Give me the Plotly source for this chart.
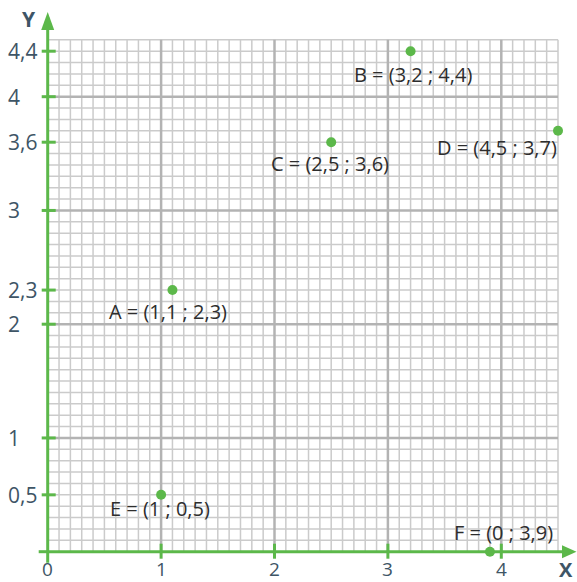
import numpy as np
import plotly.graph_objects as go

# Points on the grid
point_names = ["A", "B", "C", "D", "E", "F"]
point_x = [1.1, 3.2, 2.5, 4.5, 1.0, 3.9]
point_y = [2.3, 4.4, 3.6, 3.7, 0.5, 0.0]
point_labels = [
    "A = (1,1 ; 2,3)",
    "B = (3,2 ; 4,4)",
    "C = (2,5 ; 3,6)",
    "D = (4,5 ; 3,7)",
    "E = (1 ; 0,5)",
    "F = (0 ; 3,9)",
]

# Axis ticks and their labels
x_ticks = [0, 1, 2, 3, 4]
x_tick_labels = ["0", "1", "2", "3", "4"]
y_ticks = [4.4, 4.0, 3.6, 3.0, 2.3, 2.0, 1.0, 0.5]
y_tick_labels = ["4,4", "4", "3,6", "3", "2,3", "2", "1", "0,5"]

# Styling
GREEN = "#5cb84a"
TICK_TEXT = "#3e5566"
LABEL_TEXT = "#2d2d2d"
MINOR_GRID = "#cbcbcb"
MAJOR_GRID = "#b3b3b3"
FONT = "Open Sans"

# label offsets in pixels (xshift, yshift) relative to each point
label_offsets = [(-65, -21), (-59, -23), (-62, -21), (-123, -17), (-53, -14), (-38, 19)]

GRID_MAX = 4.5
XU, YU = 113.4, 113.75  # pixels per unit
X0_PX, Y0_PX = 47.7, 551.7
W, H = 577, 582
x_range = [-X0_PX / XU, (W - X0_PX) / XU]
y_range = [(Y0_PX - H) / YU, Y0_PX / YU]

fig = go.Figure()


def grid_trace(values, color, width):
    xs, ys = [], []
    for v in values:
        xs += [v, v, None]
        ys += [0, GRID_MAX, None]
        xs += [0, GRID_MAX, None]
        ys += [v, v, None]
    return go.Scatter(x=xs, y=ys, mode="lines", line=dict(color=color, width=width),
                      hoverinfo="skip", showlegend=False)


steps = np.round(np.arange(1, 46) * 0.1, 1)
minor = [v for v in steps if abs(v - round(v)) > 1e-9 or v > 4.4]
major = [1, 2, 3, 4]
fig.add_trace(grid_trace(minor, MINOR_GRID, 1.5))
fig.add_trace(grid_trace(major, MAJOR_GRID, 2.5))

px_x = 1 / XU
px_y = 1 / YU

# axes with arrows
fig.add_shape(type="line", x0=0, x1=4.6, y0=0, y1=0, line=dict(color=GREEN, width=3))
fig.add_shape(type="line", x0=-9 * px_x, x1=0, y0=0, y1=0, line=dict(color=GREEN, width=3))
fig.add_shape(type="line", x0=0, x1=0, y0=-11 * px_y, y1=4.7, line=dict(color=GREEN, width=3))
tip_y = (Y0_PX - 12) / YU
base_y = (Y0_PX - 30) / YU
fig.add_shape(type="path",
              path=f"M {-6.5*px_x} {base_y} L 0 {tip_y} L {6.5*px_x} {base_y} Z",
              fillcolor=GREEN, line=dict(color=GREEN, width=0))
tip_x = (W - 0.5 - X0_PX) / XU
base_x = (562 - X0_PX) / XU
fig.add_shape(type="path",
              path=f"M {base_x} {-6.5*px_y} L {tip_x} 0 L {base_x} {6.5*px_y} Z",
              fillcolor=GREEN, line=dict(color=GREEN, width=0))

# tick marks
for t in x_ticks[1:]:
    fig.add_shape(type="line", x0=t, x1=t, y0=-7 * px_y, y1=8 * px_y,
                  line=dict(color=GREEN, width=3))
for t in y_ticks:
    fig.add_shape(type="line", x0=-6 * px_x, x1=8 * px_x, y0=t, y1=t,
                  line=dict(color=GREEN, width=3))

# tick labels
for t, lab in zip(x_ticks, x_tick_labels):
    fig.add_annotation(x=t, y=(Y0_PX - 569) / YU, text=lab, showarrow=False,
                       xanchor="center", yanchor="middle", borderpad=0,
                       font=dict(family=FONT, size=19, color=TICK_TEXT))
for t, lab in zip(y_ticks, y_tick_labels):
    fig.add_annotation(x=(6 - X0_PX) / XU, y=t, text=lab, showarrow=False,
                       xanchor="left", yanchor="middle",
                       font=dict(family=FONT, size=21, color=TICK_TEXT))

# axis names
fig.add_annotation(x=(29 - X0_PX) / XU, y=(Y0_PX - 19) / YU, text="<b>Y</b>", showarrow=False,
                   xanchor="center", yanchor="middle",
                   font=dict(family=FONT, size=21, color=TICK_TEXT))
fig.add_annotation(x=(566 - X0_PX) / XU, y=(Y0_PX - 569) / YU, text="<b>X</b>", showarrow=False,
                   xanchor="center", yanchor="middle", borderpad=0,
                   font=dict(family=FONT, size=20, color=TICK_TEXT))

# points
fig.add_trace(go.Scatter(x=point_x, y=point_y, mode="markers",
                         marker=dict(color=GREEN, size=10),
                         text=point_names, hoverinfo="text", showlegend=False))
for xv, yv, lab, (dx, dy) in zip(point_x, point_y, point_labels, label_offsets):
    fig.add_annotation(x=xv, y=yv, text=lab, showarrow=False, xanchor="left",
                       yanchor="middle", xshift=dx, yshift=dy,
                       font=dict(family=FONT, size=20, color=LABEL_TEXT))

fig.update_layout(
    width=W, height=H, margin=dict(l=0, r=0, t=0, b=0),
    paper_bgcolor="white", plot_bgcolor="white",
    xaxis=dict(range=x_range, visible=False, fixedrange=True),
    yaxis=dict(range=y_range, visible=False, fixedrange=True),
)

fig.write_html("out.html")
